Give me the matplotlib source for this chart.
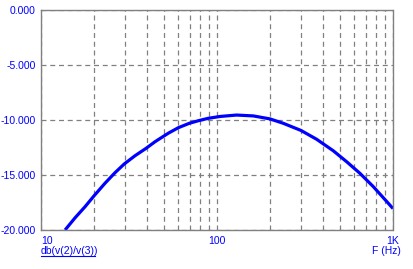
import numpy as np
import matplotlib.pyplot as plt

freq = [13.7, 15.6, 17.8, 20, 23.1, 26.3, 29.7, 34.2, 39.5, 44.5, 52.9, 60.3, 69.6, 79, 89,
        104, 129, 161, 200, 238, 300, 368, 458, 546, 649, 773, 920, 1000]
gain_db = [-20.0, -18.9, -17.88, -16.9, -15.75, -14.8, -14.0, -13.25, -12.58, -11.97, -11.2,
           -10.7, -10.3, -10.05, -9.85, -9.68, -9.55, -9.63, -9.9, -10.3, -10.95, -11.75,
           -12.8, -13.8, -14.85, -16.06, -17.4, -18.05]
x_ticks = [10, 100, 1000]
x_labels = ["10", "100", "1K"]
y_ticks = [0, -5, -10, -15, -20]
y_labels = ["0.000", "-5.000", "-10.000", "-15.000", "-20.000"]

blue = "#0000ff"
plt.rcParams['font.family'] = ['Liberation Sans', 'DejaVu Sans']

fig = plt.figure(figsize=(4.14, 2.69), dpi=100)
ax = fig.add_axes([41 / 414, 39 / 269, 352 / 414, 220 / 269])

ax.plot(freq, gain_db, color=blue, lw=2.3, solid_capstyle='butt', solid_joinstyle='round')

ax.set_xscale('log')
ax.set_xlim(10, 1000)
ax.set_ylim(-20, 0)
ax.set_xticks(x_ticks)
ax.set_xticklabels(x_labels)
minor = [m * d for d in (10, 100) for m in range(2, 10)]
ax.set_xticks(minor, minor=True)
ax.set_xticklabels([], minor=True)
ax.set_yticks(y_ticks)
ax.set_yticklabels(y_labels)

ax.tick_params(which='both', length=0, colors=blue, labelsize=7.5)
ax.tick_params(axis='y', pad=4)
ax.tick_params(axis='x', pad=4)
labs = ax.get_xticklabels()
labs[0].set_ha('left')

ax.grid(True, which='both', color='#808080', lw=0.9, linestyle=(0, (4, 3)))
for s in ax.spines.values():
    s.set_color('#808080')
    s.set_linestyle((0, (1, 1)))
    s.set_linewidth(1)

fig.text(41 / 414, 18 / 269, "db(v(2)/v(3))", color=blue, fontsize=7.5,
         ha='left', va='center')
fig.add_artist(plt.Line2D([41 / 414, 95 / 414], [13 / 269, 13 / 269], color=blue, lw=0.8))
fig.text(401 / 414, 18 / 269, "F (Hz)", color=blue, fontsize=7.5, ha='right', va='center')

fig.savefig("out.png", dpi=100)
